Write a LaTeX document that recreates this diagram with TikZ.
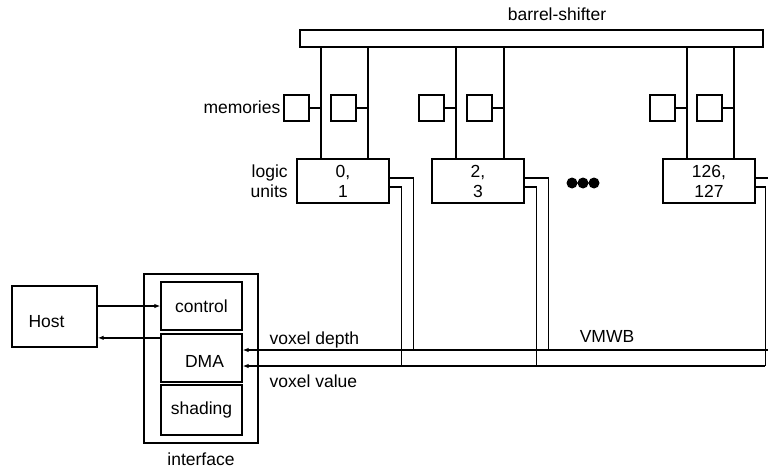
\documentclass[tikz,border=0pt]{standalone}
\usepackage{fontspec}
\setmainfont{Liberation Sans}
\usetikzlibrary{arrows.meta,positioning}

\begin{document}
\begin{tikzpicture}[
    x=1pt,
    y=-1pt,
    font=\fontsize{17.5}{20}\selectfont,
    line width=1.3pt,
    arrow/.style={-{Latex[length=6pt,width=4.5pt]}},
    block/.style={draw, rectangle, inner sep=0pt, align=center},
    mem/.style={block, minimum width=25pt, minimum height=26pt},
    unit/.style={block, minimum width=92pt, minimum height=44pt},
    part/.style={block, minimum width=81pt, minimum height=48pt},
    tag/.style={inner sep=0pt}
]
\useasboundingbox (0,0) rectangle (768,471);

% Barrel shifter across the top.
\node[block, minimum width=463pt, minimum height=17pt] (shifter) at (531.5,38.5) {};
\node[tag, anchor=base] (shiftlabel) at (557,20) {barrel-shifter};

% Logic units.
\node[unit] (unit01) at (343,181) {0,\\1};
\node[unit] (unit23) at (478,181) {2,\\3};
\node[unit] (unit127) at (709,181) {126,\\127};
\node[tag, align=right, left=8pt of unit01] (unitlabel) {logic\\units};

\fill (572,183) circle (5.5) (583,183) circle (5.5) (594,183) circle (5.5);

% Taps from the shifter down to each unit.
\coordinate (tap0a) at ([xshift=-22pt]unit01.north);
\coordinate (tap0b) at ([xshift=25pt]unit01.north);
\coordinate (tap1a) at ([xshift=-22pt]unit23.north);
\coordinate (tap1b) at ([xshift=26pt]unit23.north);
\coordinate (tap2a) at ([xshift=-22pt]unit127.north);
\coordinate (tap2b) at ([xshift=25pt]unit127.north);
\draw (tap0a) -- (tap0a |- shifter.south);
\draw (tap0b) -- (tap0b |- shifter.south);
\draw (tap1a) -- (tap1a |- shifter.south);
\draw (tap1b) -- (tap1b |- shifter.south);
\draw (tap2a) -- (tap2a |- shifter.south);
\draw (tap2b) -- (tap2b |- shifter.south);

% Memories hang off the taps.
\node[mem] (mem0a) at (296.5,108) {};
\node[mem] (mem0b) at (343.5,108) {};
\node[mem] (mem1a) at (431.5,108) {};
\node[mem] (mem1b) at (479.5,108) {};
\node[mem] (mem2a) at (662.5,108) {};
\node[mem] (mem2b) at (709.5,108) {};
\node[tag, anchor=base east] (memlabel) at (281,113) {memories};
\draw (mem0a.east) -- (mem0a.east -| tap0a);
\draw (mem0b.east) -- (mem0b.east -| tap0b);
\draw (mem1a.east) -- (mem1a.east -| tap1a);
\draw (mem1b.east) -- (mem1b.east -| tap1b);
\draw (mem2a.east) -- (mem2a.east -| tap2a);
\draw (mem2b.east) -- (mem2b.east -| tap2b);

% Host and interface.
\node[block, minimum width=85pt, minimum height=61pt, text width=52pt, text height=23pt, align=left]
    (host) at (54.5,316.5) {Host};
\node[block, minimum width=114pt, minimum height=169pt] (iface) at (201,358.5) {};
\node[part] (control) at (201.5,306) {control};
\node[part, text height=18pt] (dma) at (201.5,358) {\hspace{6pt}DMA};
\node[part, minimum height=50pt] (shading) at (201.5,410) {shading};
\node[tag, below=9pt of iface] (ifacelabel) {interface};

\coordinate (dmaout) at ([yshift=-4.5pt]dma.north west);
\draw[arrow] (host.east |- control.west) -- (control.west);
\draw[arrow] (dmaout) -- (host.east |- dmaout);

% VMWB: two lines back to the DMA.
\coordinate (depthend) at (780,350);
\coordinate (valueend) at (765,366);
\draw[arrow] (depthend) -- (dma.east |- depthend);
\draw[arrow] (valueend) -- (dma.east |- valueend);

\draw ([yshift=3pt]unit01.east) -- ++(24,0) coordinate (d0) -- (d0 |- depthend);
\draw ([yshift=-6pt]unit01.east) -- ++(12,0) coordinate (v0) -- (v0 |- valueend);
\draw ([yshift=3pt]unit23.east) -- ++(24,0) coordinate (d1) -- (d1 |- depthend);
\draw ([yshift=-6pt]unit23.east) -- ++(12,0) coordinate (v1) -- (v1 |- valueend);
\draw ([yshift=3pt]unit127.east) -- ++(24,0) coordinate (d2) -- (d2 |- depthend);
\draw ([yshift=-6pt]unit127.east) -- ++(10,0) coordinate (v2) -- (v2 |- valueend);

\node[tag, anchor=base west] (depthlabel) at (269,344) {voxel depth};
\node[tag, anchor=base west] (valuelabel) at (269,387) {voxel value};
\node[tag, anchor=base] (vmwb) at (607,342) {VMWB};

\end{tikzpicture}
\end{document}
